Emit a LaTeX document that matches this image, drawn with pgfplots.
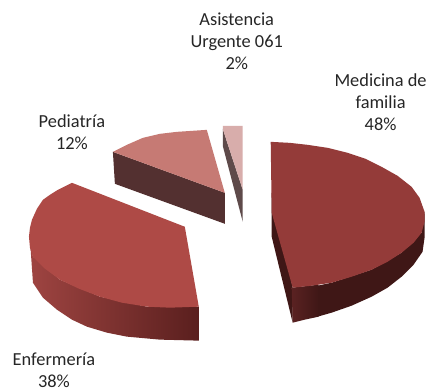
\documentclass[border=0pt]{standalone}
\usepackage{pgfplots}
\pgfplotsset{compat=1.18}
\usepackage{fontspec}
\setmainfont{Carlito}
\definecolor{medtop}{HTML}{943B39}
\definecolor{medwall}{HTML}{3F1716}
\definecolor{medwallb}{HTML}{5A2222}
\definecolor{enftop}{HTML}{AE4A46}
\definecolor{enfwalla}{HTML}{9E4441}
\definecolor{enfwallb}{HTML}{5A1F1E}
\definecolor{pedtop}{HTML}{C67A74}
\definecolor{pedwall}{HTML}{533030}
\definecolor{asitop}{HTML}{D8ADAB}
\definecolor{asiwall}{HTML}{5E4A4A}
\tikzset{lab/.style={font=\fontsize{18.4}{22}\selectfont, align=center, text=black!85}}
\begin{document}
\begin{tikzpicture}
\begin{axis}[
  width=430pt, height=390pt, scale only axis,
  xmin=0, xmax=430, ymin=0, ymax=390, y dir=reverse,
  hide axis, clip=false,
  every axis plot/.append style={line width=0pt}
]
% page background, fixes the picture's extent
\addplot[draw=none, fill=white] coordinates {(0,0)(430,0)(430,390)(0,390)} --cycle;
% Medicina de familia (48%)
\addplot[draw=none, fill=medwall] coordinates {(272,193)(272,237)(293,323)(293,288)} --cycle;
\addplot[draw=none, fill=medwall] coordinates {(318,286)(318,317)(332,313)(352,306)(372,297)(388,288)(402,277)(414,265)(423,252)(425,238)(425,212)(422,233)(402,253)(372,270)(332,283)} --cycle;
\addplot[draw=none, left color=medwallb, right color=medwall] coordinates {(292,288)(293,323)(305,320)(319,317)(319,285)} --cycle;
\addplot[draw=none, fill=medtop] coordinates {(271,142)(290,143)(308,145)(328,148)(348,153)(366,159)(382,167)(398,176)(412,187)(420,198)(425,212)(425,222)(422,233)(414,243)(402,253)(388,262)(372,270)(352,277)(332,283)(312,286)(293,288)(272,213)} --cycle;
% Enfermeria (38%)
\addplot[draw=none, left color=enfwalla, right color=enfwallb] coordinates {(30,240)(33,283)(43,298)(57,310)(72,320)(87,327)(107,333)(127,337)(160,340)(199,341)(199,307)(147,307)(100,297)(60,280)(33,257)} --cycle;
\addplot[draw=none, fill=enftop] coordinates {(72,183)(185,227)(199,307)(170,308)(147,307)(122,303)(100,297)(79,289)(60,280)(45,269)(33,257)(30,248)(29,237)(30,228)(32,220)(37,209)(43,200)(50,195)(58,190)} --cycle;
% Pediatria (12%)
\addplot[draw=none, fill=pedwall] coordinates {(113,152)(225,193)(225,224)(115,184)} --cycle;
\addplot[draw=none, fill=pedtop] coordinates {(113,152)(127,145)(143,138)(160,134)(177,132)(192,131)(207,130)(225,193)} --cycle;
% Asistencia Urgente 061 (2%)
\addplot[draw=none, fill=asiwall] coordinates {(223,129)(223,146)(243,222)(243,190)} --cycle;
\addplot[draw=none, fill=asitop] coordinates {(223,126)(243,126)(243,190)(223,129)} --cycle;
% labels
\node[lab] at (axis cs:237,41) {Asistencia\\Urgente 061\\2\%};
\node[lab] at (axis cs:381,102) {Medicina de\\familia\\48\%};
\node[lab] at (axis cs:72,132) {Pediatría\\12\%};
\node[lab] at (axis cs:54,371) {Enfermería\\38\%};
\end{axis}
\end{tikzpicture}
\end{document}
